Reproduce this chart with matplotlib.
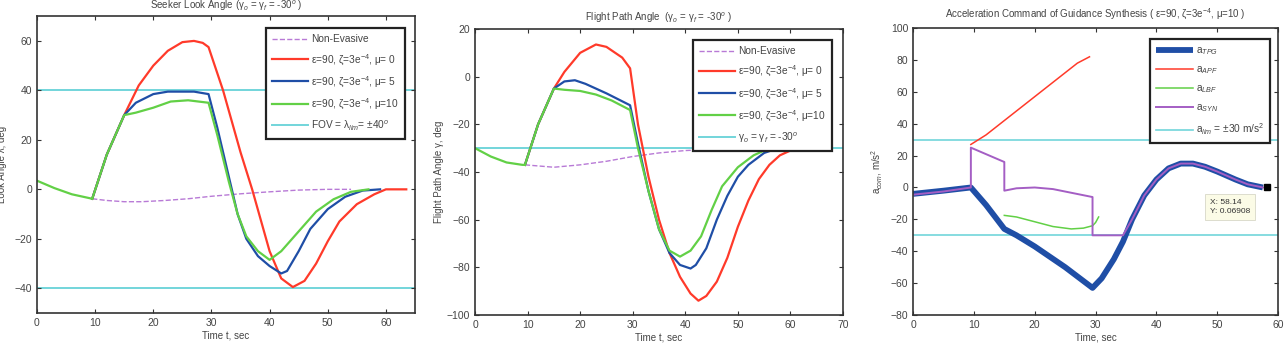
import matplotlib
matplotlib.use("Agg")
import matplotlib.pyplot as plt

plt.rcParams["font.family"] = ["Liberation Sans", "DejaVu Sans"]
plt.rcParams["mathtext.fontset"] = "custom"
plt.rcParams["mathtext.rm"] = "Liberation Sans"
plt.rcParams["mathtext.it"] = "Liberation Sans:italic"

# ---------------- panel 1: seeker look angle ----------------
look_t_common = [0, 3, 6, 9.5]
look_common = [3.5, 0.5, -2, -3.8]
look_t_ne = [9.5, 12, 15, 18, 22, 26, 30, 35, 40, 45, 50, 54]
look_ne = [-3.8, -4.5, -5, -5, -4.5, -3.8, -2.8, -1.8, -1, -0.3, 0, 0]
look_t_mu0 = [9.5, 12, 15, 17.5, 20, 22.5, 25, 27, 28.5, 29.5, 32, 35, 37, 40, 42, 44,
              46, 48, 50, 52, 55, 58, 60, 63.5]
look_mu0 = [-3.8, 14, 30, 42, 50, 56, 59.5, 60, 59.2, 57.5, 40, 15, 0, -25, -36, -39.5,
            -37, -30, -21, -13, -6, -2, 0, 0]
look_t_mu5 = [9.5, 12, 15, 17, 20, 22.5, 27, 29.5, 31, 33, 34.5, 36, 38, 40, 42, 43,
              45, 47, 50, 53, 56, 59]
look_mu5 = [-3.8, 14, 30, 35, 38.5, 39.5, 39.5, 38.5, 25, 5, -10, -20, -27, -31, -34, -33,
            -25, -16, -8, -3, -0.5, 0]
look_t_mu10 = [9.5, 12, 15, 17, 20, 23, 26, 29.5, 31, 33, 34.5, 36, 38, 40, 42, 45,
               48, 51, 54, 57]
look_mu10 = [-3.8, 14, 30, 31, 33, 35.5, 36, 35, 22, 3, -10, -19, -25, -28.5, -25, -17,
             -9, -4, -1, 0]
fov_lim = 40

# ---------------- panel 2: flight path angle ----------------
fpa_t_common = [0, 3, 6, 9, 9.5]
fpa_common = [-30, -33.5, -36, -37, -37]
fpa_t_ne = [9.5, 15, 20, 25, 30, 35, 40, 45, 50, 55]
fpa_ne = [-37, -38, -37, -35.5, -33.5, -32, -31, -30.5, -30, -30]
fpa_t_mu0 = [9.5, 12, 15, 17, 20, 23, 25, 28, 29.5, 31, 33, 35, 37, 39, 41, 42.5, 44,
             46, 48, 50, 52, 54, 56, 58, 60, 61, 63.5]
fpa_mu0 = [-37, -20, -5, 2, 10, 13.5, 12.5, 8, 3.5, -20, -42, -60, -74, -84, -91, -94, -92,
           -86, -76, -63, -52, -43, -37, -33, -31, -30, -30]
fpa_t_mu5 = [9.5, 12, 15, 17, 19, 21, 25, 29.5, 31, 33, 35, 37, 39, 41, 42, 44, 46, 48,
             50, 52, 55, 57, 59]
fpa_mu5 = [-37, -20, -5, -2, -1.5, -3, -7, -12, -28, -48, -64, -74, -79, -80.5, -79, -72,
           -60, -50, -42, -37, -32, -30.5, -30]
fpa_t_mu10 = [9.5, 12, 15, 17, 20, 23, 26, 29.5, 31, 33, 35, 37, 39, 41, 43, 45, 47, 50,
              53, 55, 57]
fpa_mu10 = [-37, -20, -5, -5.5, -6, -7.5, -10, -14, -30, -48, -64, -73, -75.5, -73, -67,
            -56, -46, -38, -33, -31, -30]
fpa_ref = -30

# ---------------- panel 3: acceleration command ----------------
acc_t_tpg = [0, 5, 9.5, 12, 15, 17, 20, 25, 29.5, 31, 33, 34.5, 36, 38, 40, 42, 44, 46,
             48, 50, 53, 55, 57.5]
acc_tpg = [-4, -2, 0, -11, -26, -30, -37, -50, -63, -57, -45, -34, -20, -5, 5, 12, 15, 15,
           13, 10, 5, 2, 0]
acc_t_apf = [9.5, 12, 15, 20, 25, 27, 29]
acc_apf = [27, 33, 42, 57, 72, 78, 82]
acc_t_lbf = [15, 17, 20, 23, 26, 28, 29.5, 30, 30.5]
acc_lbf = [-17.5, -18.5, -21.5, -24.5, -26, -25.5, -24, -22, -18.5]
acc_t_syn = [0, 5, 9.5, 9.5, 15, 15, 17, 20, 23, 29.5, 29.5, 34.5, 36, 38, 40, 42, 44, 46,
             48, 50, 53, 55, 57.5]
acc_syn = [-4.5, -2.5, 0, 25, 16, -2, -0.5, 0, -1, -6, -30, -30, -20, -5, 5, 12, 15, 15,
           13, 10, 5, 2, 0]
acc_lim = 30
tip_x, tip_y = 58.14, 0.06908

RED = "#ff3a2a"
BLUE = "#1f4ea6"
GREEN = "#62d046"
CYAN = "#72d5da"
PURPLE = "#b87ad6"
SYN = "#a45ec4"
TXT = "#444444"


def style_axes(ax, xlim, ylim, xticks, yticks):
    ax.set_xlim(*xlim)
    ax.set_ylim(*ylim)
    ax.set_xticks(xticks)
    ax.set_yticks(yticks)
    ax.tick_params(direction="in", top=True, right=True, labelsize=7.5,
                   colors="#333333", labelcolor=TXT, length=3, width=0.8)
    for sp in ax.spines.values():
        sp.set_linewidth(1.2)
        sp.set_color("#333333")


def style_legend(leg):
    fr = leg.get_frame()
    fr.set_edgecolor("#222222")
    fr.set_linewidth(1.6)
    fr.set_boxstyle("square", pad=0.0)
    for t in leg.get_texts():
        t.set_color(TXT)


fig = plt.figure(figsize=(12.88, 3.44), dpi=100)
leg_kw = dict(loc="upper right", fontsize=7.3, framealpha=1, fancybox=False,
              handlelength=3.6, labelspacing=0.72, borderpad=0.6, handletextpad=0.3)
mu_lbl = ["ε=90, ζ=3e$^{-4}$, μ= 0", "ε=90, ζ=3e$^{-4}$, μ= 5", "ε=90, ζ=3e$^{-4}$, μ=10"]

# panel 1
ax1 = fig.add_axes([0.0287, 0.090, 0.2935, 0.863])
ax1.axhline(fov_lim, color=CYAN, lw=1.4, zorder=1)
ax1.axhline(-fov_lim, color=CYAN, lw=1.4, zorder=1)
h_ne, = ax1.plot(look_t_ne, look_ne, "--", color=PURPLE, lw=1.0)
h0, = ax1.plot(look_t_mu0, look_mu0, color=RED, lw=1.6)
h5, = ax1.plot(look_t_mu5, look_mu5, color=BLUE, lw=1.6)
h10, = ax1.plot(look_t_mu10, look_mu10, color=GREEN, lw=1.6)
ax1.plot(look_t_common, look_common, color=GREEN, lw=1.6)
h_lim, = ax1.plot([], [], color=CYAN, lw=1.4)
style_axes(ax1, (0, 65), (-50, 70), range(0, 61, 10), range(-40, 61, 20))
ax1.set_title("Seeker Look Angle (γ$_o$ = γ$_f$ = -30$^o$ )", fontsize=7, color=TXT, y=0.995)
ax1.set_xlabel("Time t, sec", fontsize=7, color=TXT, labelpad=2)
ax1.set_ylabel("Look Angle λ, deg", fontsize=7, color=TXT)
ax1.yaxis.set_label_coords(-0.078, 0.5)
leg = ax1.legend([h_ne, h0, h5, h10, h_lim],
                 ["Non-Evasive"] + mu_lbl + ["FOV = λ$_{lim}$= ±40$^o$"],
                 bbox_to_anchor=(0.987, 0.976), **leg_kw)
style_legend(leg)

# panel 2
ax2 = fig.add_axes([0.3688, 0.0843, 0.2857, 0.8314])
ax2.axhline(fpa_ref, color=CYAN, lw=1.4, zorder=1)
h_ne, = ax2.plot(fpa_t_ne, fpa_ne, "--", color=PURPLE, lw=1.0)
h0, = ax2.plot(fpa_t_mu0, fpa_mu0, color=RED, lw=1.6)
h5, = ax2.plot(fpa_t_mu5, fpa_mu5, color=BLUE, lw=1.6)
h10, = ax2.plot(fpa_t_mu10, fpa_mu10, color=GREEN, lw=1.6)
ax2.plot(fpa_t_common, fpa_common, color=GREEN, lw=1.6)
h_lim, = ax2.plot([], [], color=CYAN, lw=1.4)
style_axes(ax2, (0, 70), (-100, 20), range(0, 71, 10), range(-100, 21, 20))
ax2.set_title("Flight Path Angle  (γ$_o$ = γ$_f$ = -30$^o$ )", fontsize=7, color=TXT, pad=6)
ax2.set_xlabel("Time t, sec", fontsize=7, color=TXT, labelpad=2)
ax2.set_ylabel("Flight Path Angle γ, deg", fontsize=7, color=TXT, labelpad=2)
leg = ax2.legend([h_ne, h0, h5, h10, h_lim],
                 ["Non-Evasive"] + mu_lbl + ["γ$_o$ = γ$_f$ = -30$^o$"],
                 bbox_to_anchor=(0.984, 0.979), **leg_kw)
style_legend(leg)

# panel 3
ax3 = fig.add_axes([0.7089, 0.0843, 0.2834, 0.834])
ax3.axhline(acc_lim, color=CYAN, lw=1.2, zorder=1)
ax3.axhline(-acc_lim, color=CYAN, lw=1.2, zorder=1)
h_tpg, = ax3.plot(acc_t_tpg, acc_tpg, color=BLUE, lw=4.2, solid_capstyle="butt")
h_apf, = ax3.plot(acc_t_apf, acc_apf, color=RED, lw=1.1)
h_lbf, = ax3.plot(acc_t_lbf, acc_lbf, color=GREEN, lw=1.1)
h_syn, = ax3.plot(acc_t_syn, acc_syn, color=SYN, lw=1.4)
h_lim, = ax3.plot([], [], color=CYAN, lw=1.2)
ax3.plot([tip_x], [tip_y], "s", color="black", ms=5, clip_on=False, zorder=5)
ax3.text(48.8, -7, f"X: {tip_x}\nY: {tip_y}", fontsize=6, color="#333333", va="top",
         ha="left", linespacing=1.5,
         bbox=dict(boxstyle="square,pad=0.6", fc="#fbfbe6", ec="#d8d8c8", lw=0.6))
style_axes(ax3, (0, 60), (-80, 100), range(0, 61, 10), range(-80, 101, 20))
ax3.set_title("Acceleration Command of Guidance Synthesis ( ε=90, ζ=3e$^{-4}$, μ=10 )",
              fontsize=7, color=TXT, pad=8)
ax3.set_xlabel("Time, sec", fontsize=7, color=TXT, labelpad=2)
ax3.set_ylabel("a$_{com}$, m/s$^2$", fontsize=7, color=TXT, labelpad=4)
leg = ax3.legend([h_tpg, h_apf, h_lbf, h_syn, h_lim],
                 ["a$_{TPG}$", "a$_{APF}$", "a$_{LBF}$", "a$_{SYN}$", "a$_{lim}$ = ±30 m/s$^2$"],
                 bbox_to_anchor=(0.992, 0.979), **leg_kw)
style_legend(leg)

fig.savefig("out.png", dpi=100)
